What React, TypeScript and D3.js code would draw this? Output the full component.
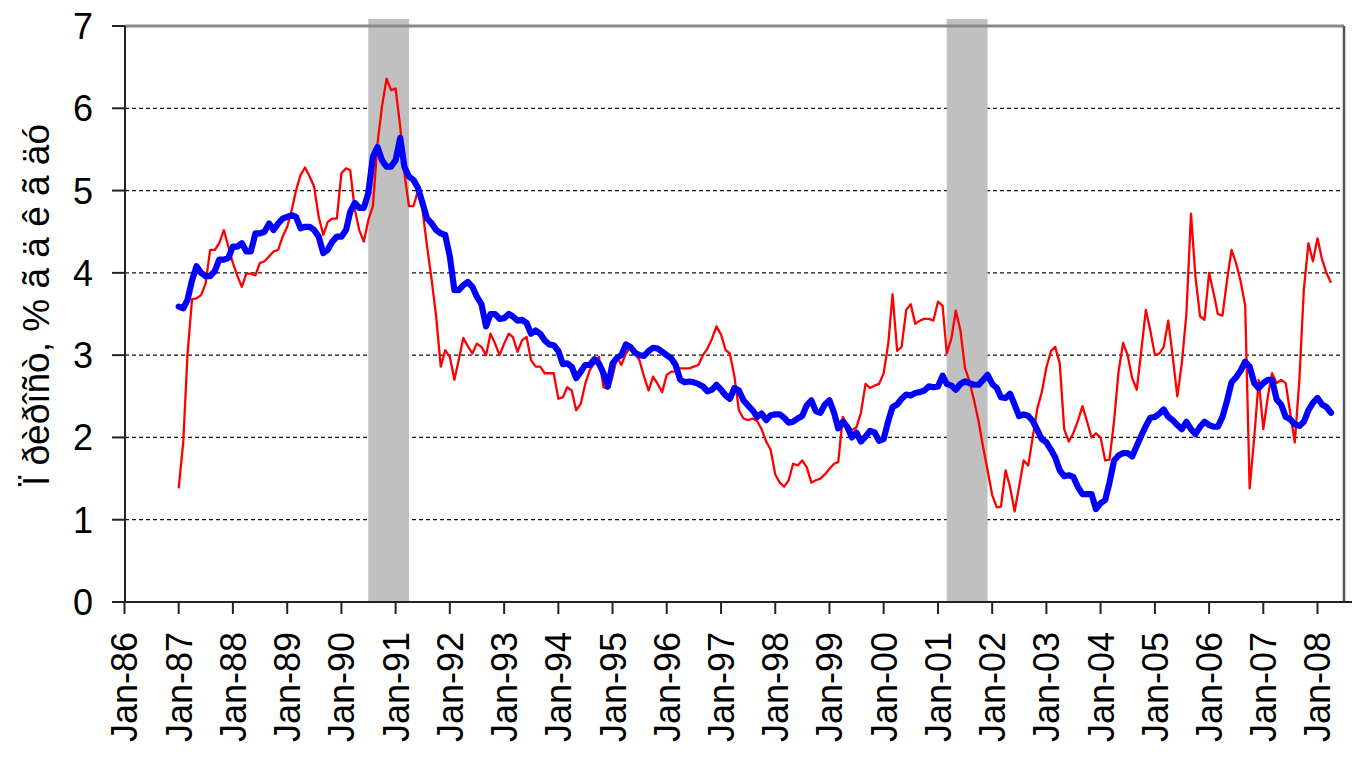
import React from "react";
import * as d3 from "d3";

// Monthly data starting Jan-1987
const startYear = 1987;
const seriesRed = [
  1.38, 1.95, 3.0, 3.68, 3.69, 3.73, 3.87, 4.28, 4.28, 4.36, 4.52, 4.32,
  4.12, 3.96, 3.83, 3.99, 3.99, 3.97, 4.12, 4.14, 4.2, 4.26, 4.28, 4.44,
  4.56, 4.77, 5.0, 5.19, 5.28, 5.17, 5.05, 4.68, 4.46, 4.62, 4.66, 4.66,
  5.21, 5.27, 5.25, 4.77, 4.52, 4.38, 4.64, 4.81, 5.57, 6.02, 6.36, 6.22,
  6.24, 5.78, 5.21, 4.81, 4.81, 5.0, 4.77, 4.32, 3.91, 3.47, 2.86, 3.06,
  2.98, 2.7, 2.94, 3.21, 3.11, 3.02, 3.14, 3.1, 3.0, 3.26, 3.14, 3.0,
  3.14, 3.26, 3.22, 3.04, 3.18, 3.22, 2.94, 2.86, 2.86, 2.78, 2.78, 2.78,
  2.47, 2.49, 2.61, 2.57, 2.33, 2.41, 2.65, 2.82, 2.9, 2.98, 2.61, 2.59,
  2.74, 2.98, 2.88, 3.02, 3.1, 3.02, 2.94, 2.74, 2.57, 2.74, 2.65, 2.55,
  2.76, 2.8, 2.8, 2.84, 2.84, 2.84, 2.86, 2.88, 3.0, 3.08, 3.2, 3.35,
  3.25, 3.06, 3.02, 2.74, 2.33, 2.23, 2.21, 2.23, 2.2, 2.1, 1.95, 1.85,
  1.55, 1.45, 1.4, 1.48, 1.68, 1.66, 1.72, 1.64, 1.45, 1.48, 1.5, 1.55,
  1.62, 1.68, 1.7, 2.25, 2.15, 2.09, 2.12, 2.3, 2.65, 2.6, 2.63, 2.65,
  2.78, 3.14, 3.74, 3.05, 3.1, 3.55, 3.62, 3.38, 3.42, 3.44, 3.44, 3.42,
  3.65, 3.6, 3.02, 3.2, 3.54, 3.3, 2.85, 2.68, 2.45, 2.2, 1.88, 1.6,
  1.3, 1.15, 1.16, 1.6, 1.4, 1.1, 1.4, 1.72, 1.66, 2.0, 2.35, 2.55,
  2.85, 3.05, 3.1, 2.9, 2.1, 1.95, 2.05, 2.2, 2.38, 2.2, 2.0, 2.05,
  2.0, 1.72, 1.73, 2.2, 2.8, 3.15, 3.0, 2.72, 2.58, 3.05, 3.55, 3.3,
  3.0, 3.02, 3.1, 3.42, 2.98, 2.5, 2.9, 3.5, 4.72, 3.95, 3.47, 3.43,
  4.0, 3.75, 3.5, 3.48, 3.9, 4.28, 4.12, 3.9, 3.6, 1.38, 2.0, 2.7,
  2.1, 2.5, 2.78, 2.66, 2.7, 2.66, 2.3, 1.94, 2.7, 3.8, 4.36, 4.14,
  4.42, 4.16, 4.0, 3.88,
];
const seriesBlue = [
  3.59, 3.57, 3.67, 3.91, 4.08, 4.0, 3.96, 3.96, 4.02, 4.16, 4.16, 4.18,
  4.32, 4.32, 4.36, 4.26, 4.26, 4.48, 4.48, 4.5, 4.6, 4.52, 4.6, 4.66,
  4.68, 4.7, 4.68, 4.54, 4.56, 4.56, 4.52, 4.44, 4.24, 4.28, 4.38, 4.44,
  4.44, 4.52, 4.74, 4.85, 4.79, 4.79, 4.97, 5.41, 5.53, 5.37, 5.29, 5.29,
  5.37, 5.64, 5.29, 5.17, 5.13, 5.03, 4.85, 4.66, 4.6, 4.52, 4.48, 4.46,
  4.2, 3.79, 3.79, 3.85, 3.89, 3.83, 3.71, 3.62, 3.35, 3.5, 3.5, 3.44,
  3.45, 3.5, 3.47, 3.42, 3.43, 3.39, 3.26, 3.3, 3.26, 3.18, 3.13, 3.12,
  3.05, 2.89, 2.9, 2.86, 2.72, 2.8, 2.88, 2.88, 2.95, 2.9, 2.78, 2.62,
  2.9, 2.97, 3.0, 3.13, 3.1, 3.03, 3.0, 2.99, 3.05, 3.09, 3.08, 3.04,
  3.0, 2.96, 2.88, 2.7, 2.67, 2.68, 2.67, 2.65, 2.62, 2.56, 2.58, 2.64,
  2.58, 2.51, 2.47, 2.6, 2.57, 2.45, 2.39, 2.33, 2.25, 2.29, 2.21, 2.27,
  2.28, 2.28, 2.24, 2.18, 2.19, 2.23, 2.26, 2.39, 2.45, 2.32, 2.3, 2.4,
  2.45, 2.3, 2.11, 2.19, 2.13, 2.0, 2.06, 1.95, 2.01, 2.08, 2.06, 1.96,
  1.98, 2.2, 2.37, 2.4, 2.47, 2.52, 2.51, 2.54, 2.55, 2.57, 2.62, 2.61,
  2.62, 2.75, 2.65, 2.63, 2.58, 2.65, 2.68, 2.66, 2.64, 2.64, 2.7, 2.76,
  2.65, 2.6, 2.49, 2.48, 2.53, 2.4, 2.26, 2.28, 2.26, 2.2, 2.09, 1.98,
  1.94, 1.85, 1.76, 1.6, 1.53, 1.54, 1.52, 1.4, 1.31, 1.31, 1.31, 1.13,
  1.2, 1.24, 1.45, 1.72, 1.78, 1.81, 1.81, 1.77, 1.9, 2.02, 2.14, 2.24,
  2.25, 2.29, 2.34, 2.25, 2.21, 2.15, 2.1, 2.19, 2.1, 2.04, 2.13, 2.19,
  2.15, 2.13, 2.13, 2.25, 2.44, 2.67, 2.73, 2.81, 2.92, 2.86, 2.66, 2.6,
  2.66, 2.7, 2.7, 2.46, 2.4, 2.25, 2.22, 2.16, 2.14, 2.19, 2.33, 2.42,
  2.48, 2.4, 2.37, 2.3,
];
const recessions = [
  { start: [1990, 6], end: [1991, 3] },
  { start: [2001, 2], end: [2001, 11] },
];
const yTicks = [0, 1, 2, 3, 4, 5, 6, 7];
const xTickYears = d3.range(1986, 2009);
const yLabel = "Ï ðèðîñò, % ã ä ê ã äó";

const W = 1355;
const H = 764;
const left = 125;
const right = 1344;
const top = 26;
const bottom = 602;

export default function App() {
  const x = d3
    .scaleTime()
    .domain([new Date(1986, 0, 1), new Date(2008, 0, 1)])
    .range([124.5, 1317.5]);
  const y = d3.scaleLinear().domain([0, 7]).range([bottom, top]);

  const dates = seriesRed.map((_, i) => new Date(startYear, i, 1));
  const line = d3
    .line<number>()
    .x((_, i) => x(dates[i]))
    .y((d) => y(d));

  const font = "'Liberation Sans', Arial, sans-serif";

  return (
    <svg
      width={W}
      height={H}
      style={{ position: "absolute", left: 0, top: 0, background: "#fff" }}
    >
      <rect x={0} y={0} width={W} height={H} fill="#fff" />
      {/* gridlines */}
      {yTicks
        .filter((t) => t > 0 && t < 7)
        .map((t) => (
          <line
            key={t}
            x1={left}
            x2={right}
            y1={y(t)}
            y2={y(t)}
            stroke="#111"
            strokeWidth={1.2}
            strokeDasharray="4,3"
          />
        ))}
      {/* recession bands */}
      {recessions.map((r, i) => {
        const x0 = x(new Date(r.start[0], r.start[1], 1));
        const x1 = x(new Date(r.end[0], r.end[1], 1));
        return (
          <rect
            key={i}
            x={x0}
            y={19}
            width={x1 - x0}
            height={bottom - 19}
            fill="#c0c0c0"
          />
        );
      })}
      {/* frame */}
      <line x1={left} x2={right} y1={top} y2={top} stroke="#8a8a8a" strokeWidth={3} />
      <line x1={right} x2={right} y1={top} y2={bottom} stroke="#555" strokeWidth={2.5} />
      <line x1={left} x2={left} y1={top} y2={bottom} stroke="#222" strokeWidth={2} />
      <line x1={112} x2={1352} y1={bottom} y2={bottom} stroke="#222" strokeWidth={2} />
      {/* y ticks */}
      {yTicks.map((t) => (
        <g key={t}>
          <line x1={112} x2={left} y1={y(t)} y2={y(t)} stroke="#222" strokeWidth={2} />
          <text
            x={93}
            y={y(t)}
            dy="0.36em"
            textAnchor="end"
            fontFamily={font}
            fontSize={36}
            fill="#000"
          >
            {t}
          </text>
        </g>
      ))}
      {/* x ticks */}
      {xTickYears.map((yr) => {
        const xx = x(new Date(yr, 0, 1));
        const lab = "Jan-" + String(yr % 100).padStart(2, "0");
        return (
          <g key={yr}>
            <line x1={xx} x2={xx} y1={bottom} y2={bottom + 12} stroke="#222" strokeWidth={2} />
            <text
              transform={`translate(${xx},${632}) rotate(-90)`}
              dy="0.36em"
              textAnchor="end"
              fontFamily={font}
              fontSize={36}
              fill="#000"
            >
              {lab}
            </text>
          </g>
        );
      })}
      {/* series */}
      <path d={line(seriesRed) || ""} fill="none" stroke="#ff0000" strokeWidth={2.3} strokeLinejoin="round" />
      <path d={line(seriesBlue) || ""} fill="none" stroke="#0000ff" strokeWidth={6.2} strokeLinejoin="round" strokeLinecap="round" />
      {/* y label */}
      <text
        transform={`translate(49,305) rotate(-90)`}
        textAnchor="middle"
        fontFamily={font}
        fontSize={37}
        fill="#000"
        style={{ whiteSpace: "pre" }}
      >
        {yLabel}
      </text>
    </svg>
  );
}
